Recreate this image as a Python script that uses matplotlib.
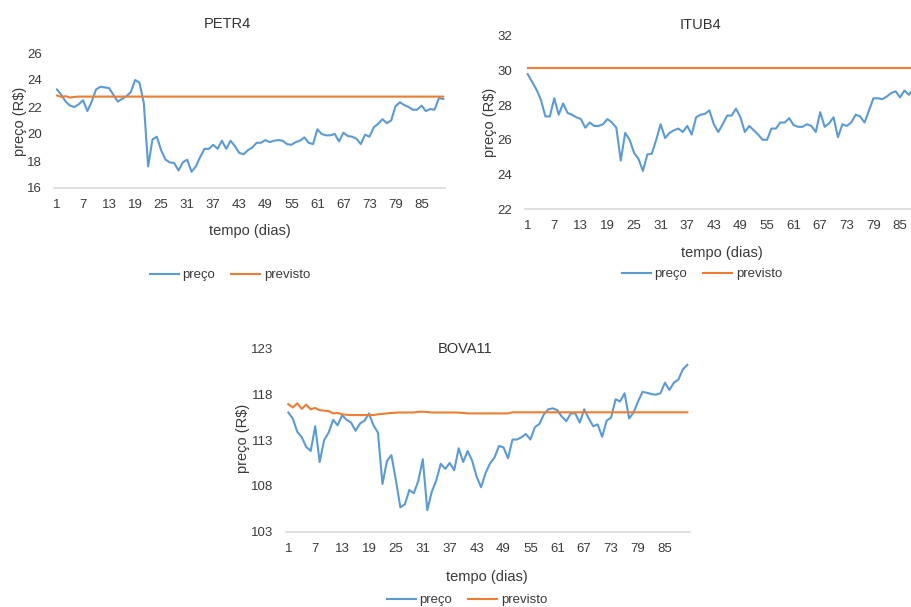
import matplotlib
matplotlib.use("Agg")
import matplotlib.pyplot as plt
from matplotlib.lines import Line2D

plt.rcParams['font.family'] = ['Liberation Sans', 'DejaVu Sans']

days = list(range(1, 91))
tick_days = list(range(1, 91, 6))

petr4_preco = [
    23.3, 22.9, 22.4, 22.1, 22.0, 22.2, 22.5, 21.7, 22.4, 23.3,
    23.5, 23.45, 23.4, 22.9, 22.4, 22.6, 22.8, 23.1, 24.0, 23.8,
    22.3, 17.6, 19.6, 19.8, 18.8, 18.1, 17.9, 17.85, 17.3, 17.9,
    18.1, 17.2, 17.6, 18.3, 18.9, 18.9, 19.2, 18.9, 19.5, 18.9,
    19.5, 19.1, 18.6, 18.5, 18.8, 19.0, 19.35, 19.35, 19.55, 19.4,
    19.5, 19.55, 19.5, 19.25, 19.2, 19.4, 19.5, 19.75, 19.35, 19.25,
    20.35, 20.0, 19.9, 19.9, 20.0, 19.45, 20.1, 19.85, 19.8, 19.65,
    19.25, 19.95, 19.8, 20.5, 20.75, 21.1, 20.8, 21.0, 22.05, 22.35,
    22.15, 22.0, 21.8, 21.8, 22.1, 21.7, 21.85, 21.8, 22.65, 22.6,
]
petr4_previsto = [22.85, 22.75, 22.8, 22.7, 22.75] + [22.77] * 85

itub4_preco = [
    29.8, 29.35, 28.9, 28.3, 27.35, 27.35, 28.4, 27.45, 28.1, 27.55,
    27.45, 27.3, 27.2, 26.7, 27.0, 26.8, 26.8, 26.9, 27.2, 27.0,
    26.7, 24.8, 26.4, 26.0, 25.25, 24.9, 24.2, 25.15, 25.2, 26.0,
    26.9, 26.1, 26.4, 26.55, 26.65, 26.45, 26.8, 26.3, 27.3, 27.45,
    27.5, 27.7, 26.9, 26.45, 26.9, 27.4, 27.4, 27.8, 27.3, 26.45,
    26.8, 26.55, 26.3, 26.0, 26.0, 26.65, 26.65, 27.0, 27.0, 27.25,
    26.85, 26.75, 26.75, 26.9, 26.8, 26.45, 27.6, 26.75, 26.95, 27.3,
    26.15, 26.9, 26.8, 27.0, 27.45, 27.35, 27.0, 27.7, 28.4, 28.4,
    28.35, 28.5, 28.7, 28.8, 28.45, 28.85, 28.6, 28.95, 29.1, 29.0,
]
itub4_previsto = [30.13] * 90

bova11_preco = [
    116.0, 115.35, 113.9, 113.3, 112.25, 111.8, 114.5, 110.6, 113.0, 113.8,
    115.2, 114.6, 115.7, 115.2, 114.9, 114.0, 114.8, 115.1, 115.9, 114.6,
    113.8, 108.2, 110.7, 111.35, 108.6, 105.65, 106.0, 107.55, 107.2, 108.55,
    110.9, 105.35, 107.35, 108.6, 110.4, 109.85, 110.5, 109.7, 112.1, 110.6,
    111.8, 110.75, 109.0, 107.85, 109.4, 110.45, 111.1, 112.35, 112.2, 111.0,
    113.05, 113.05, 113.3, 113.65, 113.05, 114.4, 114.75, 115.8, 116.35, 116.45,
    116.25, 115.55, 115.05, 115.9, 115.9, 114.9, 116.35, 115.35, 114.5, 114.7,
    113.35, 115.1, 115.45, 117.45, 117.2, 118.1, 115.35, 116.0, 117.2, 118.25,
    118.15, 118.0, 117.95, 118.1, 119.25, 118.45, 119.25, 119.6, 120.7, 121.2,
]
bova11_previsto = [
    116.9, 116.55, 117.0, 116.4, 116.85, 116.35, 116.5, 116.25, 116.2, 116.15,
    115.9, 115.95, 115.8, 115.75, 115.72, 115.72, 115.72, 115.72, 115.72, 115.72,
    115.8, 115.85, 115.9, 115.95, 115.98, 116.0, 116.0, 116.0, 116.0, 116.08,
    116.08, 116.05, 116.0, 116.0, 116.0, 116.0, 116.0, 116.0, 115.98, 115.95,
    115.9, 115.9, 115.9, 115.9, 115.9, 115.9, 115.9, 115.9, 115.9, 115.9,
] + [116.02] * 40

BLUE = '#5B9BD5'
ORANGE = '#ED7D31'
TEXT = '#3A3A3A'

W, H = 912, 607
fig = plt.figure(figsize=(W / 100, H / 100), dpi=100)


def fx(x):
    return x / W


def fy(y):
    return 1 - y / H


def make_axes(left, right, top, bottom):
    return fig.add_axes([fx(left), fy(bottom), fx(right) - fx(left), fy(top) - fy(bottom)])


def style(ax, ylim, yticks):
    ax.set_xlim(0.4, 90.5)
    ax.set_ylim(*ylim)
    ax.set_yticks(yticks)
    ax.set_xticks(tick_days)
    for s in ('top', 'right', 'left'):
        ax.spines[s].set_visible(False)
    ax.spines['bottom'].set_color('#D9D9D9')
    ax.spines['bottom'].set_linewidth(1.2)
    ax.tick_params(axis='both', length=0, labelsize=9.5, colors=TEXT)
    ax.tick_params(axis='x', pad=8)
    ax.tick_params(axis='y', pad=9)


def draw(ax, preco, previsto):
    ax.plot(days, preco, color=BLUE, lw=1.5, solid_joinstyle='round')
    ax.plot(days, previsto, color=ORANGE, lw=1.5, solid_joinstyle='round')


def legend(cx, cy):
    handles = [Line2D([], [], color=BLUE, lw=1.5), Line2D([], [], color=ORANGE, lw=1.5)]
    fig.legend(handles, ['preço', 'previsto'], loc='center', bbox_to_anchor=(fx(cx), fy(cy)),
               ncol=2, frameon=False, fontsize=9.5, handlelength=2.2, handletextpad=0.3,
               columnspacing=1.2, labelcolor=TEXT)


def labels(title_xy, xlabel_xy, ylabel_xy):
    fig.text(fx(title_xy[0]), fy(title_xy[1]), title_xy[2], ha='center', va='center',
             fontsize=10.5, color='#333333')
    fig.text(fx(xlabel_xy[0]), fy(xlabel_xy[1]), 'tempo (dias)', ha='center', va='center',
             fontsize=10.5, color=TEXT)
    fig.text(fx(ylabel_xy[0]), fy(ylabel_xy[1]), 'preço (R$)', ha='center', va='center',
             rotation=90, fontsize=10.5, color=TEXT)


# PETR4
ax1 = make_axes(54.4, 445.4, 53, 188)
draw(ax1, petr4_preco, petr4_previsto)
style(ax1, (16, 26), [16, 18, 20, 22, 24, 26])
labels((227, 24, 'PETR4'), (250, 231), (20, 121))
legend(230, 275)

# ITUB4
ax2 = make_axes(525, 924.4, 36, 209)
draw(ax2, itub4_preco, itub4_previsto)
style(ax2, (22, 32), [22, 24, 26, 28, 30, 32])
labels((700, 25, 'ITUB4'), (722, 253), (490, 122))
legend(702, 274)

# BOVA11
ax3 = make_axes(285.6, 689.6, 348.3, 531.7)
draw(ax3, bova11_preco, bova11_previsto)
style(ax3, (103, 123), [103, 108, 113, 118, 123])
labels((465, 349, 'BOVA11'), (487, 577), (243, 438))
legend(467, 600)

fig.savefig('out.png', dpi=100, facecolor='white')
